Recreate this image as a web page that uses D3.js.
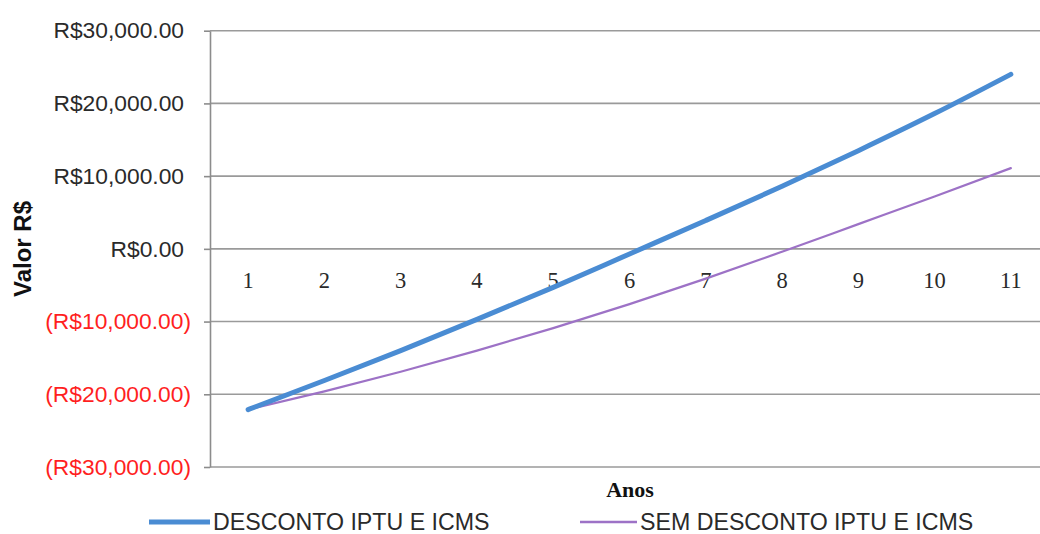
<!DOCTYPE html>
<html>
<head>
<meta charset="utf-8">
<script src="https://cdn.jsdelivr.net/npm/d3@7/dist/d3.min.js"></script>
<style>
  html, body { margin: 0; padding: 0; background: #fff; }
  svg { display: block; }
</style>
</head>
<body>
<svg id="chart" width="1040" height="534"></svg>
<script>
const years = ["1","2","3","4","5","6","7","8","9","10","11"];
const comDesconto = [-22100, -18100, -14000, -9700, -5300, -700, 3900, 8600, 13500, 18600, 24000];
const semDesconto = [-22100, -19600, -16900, -14000, -10900, -7600, -4100, -400, 3400, 7200, 11100];
const yTicks = [-30000, -20000, -10000, 0, 10000, 20000, 30000];
const seriesNames = ["DESCONTO IPTU E ICMS", "SEM DESCONTO IPTU E ICMS"];
const seriesColors = ["#4a8cd3", "#9d72c6"];

const svg = d3.select("#chart");
const plotLeft = 210, plotTop = 30.7, plotBottom = 467;
const x = d3.scaleBand().domain(years).range([plotLeft, 1049]).padding(0);
const y = d3.scaleLinear().domain([-30000, 30000]).range([plotBottom, plotTop]);
const fmt = d3.format(",.2f");
const yLabel = v => v >= 0 ? "R$" + fmt(v) : "(R$" + fmt(-v) + ")";

// gridlines
svg.append("g").selectAll("line").data(yTicks).join("line")
  .attr("x1", plotLeft).attr("x2", 1040)
  .attr("y1", d => y(d)).attr("y2", d => y(d))
  .attr("stroke", "#9a9a9a").attr("stroke-width", 1.6);

// y axis
const yAxis = svg.append("g").attr("transform", `translate(${plotLeft},0)`)
  .call(d3.axisLeft(y).tickValues(yTicks).tickSize(6).tickSizeOuter(0).tickPadding(20).tickFormat(yLabel));
yAxis.select(".domain").attr("stroke", "#8c8c8c").attr("stroke-width", 1.6);
yAxis.selectAll(".tick line").attr("stroke", "#8c8c8c").attr("stroke-width", 1.6);
yAxis.selectAll(".tick text")
  .attr("font-family", "Liberation Sans, Arial, sans-serif")
  .attr("font-size", 22.8)
  .attr("dx", d => d < 0 ? 7 : 0)
  .attr("fill", d => d < 0 ? "#ff1f1f" : "#2a2a2a");

// x labels
svg.append("g").selectAll("text").data(years).join("text")
  .attr("x", d => x(d) + x.bandwidth() / 2)
  .attr("y", 288)
  .attr("text-anchor", "middle")
  .attr("font-family", "Liberation Serif, Times New Roman, serif")
  .attr("font-size", 22.5)
  .attr("fill", "#2a2a2a")
  .text(d => d);

// lines
const line = d3.line()
  .x((d, i) => x(years[i]) + x.bandwidth() / 2)
  .y(d => y(d))
  .curve(d3.curveMonotoneX);

svg.append("path").datum(semDesconto)
  .attr("d", line).attr("fill", "none")
  .attr("stroke", seriesColors[1]).attr("stroke-width", 2.2)
  .attr("stroke-linecap", "round");
svg.append("path").datum(comDesconto)
  .attr("d", line).attr("fill", "none")
  .attr("stroke", seriesColors[0]).attr("stroke-width", 5)
  .attr("stroke-linecap", "round");

// axis titles
svg.append("text")
  .attr("transform", "translate(31,249) rotate(-90)")
  .attr("text-anchor", "middle")
  .attr("font-family", "Liberation Sans, Arial, sans-serif")
  .attr("font-weight", "bold")
  .attr("font-size", 24)
  .attr("fill", "#111")
  .text("Valor R$");

svg.append("text")
  .attr("x", 630).attr("y", 497)
  .attr("text-anchor", "middle")
  .attr("font-family", "Liberation Serif, Times New Roman, serif")
  .attr("font-weight", "bold")
  .attr("font-size", 22)
  .attr("fill", "#111")
  .text("Anos");

// legend
const legendItems = [
  { x1: 149, x2: 210, tx: 213, w: 5 },
  { x1: 580, x2: 637, tx: 640, w: 2.5 }
];
const lg = svg.append("g").selectAll("g").data(legendItems).join("g");
lg.append("line")
  .attr("x1", d => d.x1).attr("x2", d => d.x2)
  .attr("y1", 522).attr("y2", 522)
  .attr("stroke", (d, i) => seriesColors[i])
  .attr("stroke-width", d => d.w);
lg.append("text")
  .attr("x", d => d.tx).attr("y", 530)
  .attr("font-family", "Liberation Sans, Arial, sans-serif")
  .attr("font-size", 23.2)
  .attr("fill", "#2a2a2a")
  .text((d, i) => seriesNames[i]);
</script>
</body>
</html>
